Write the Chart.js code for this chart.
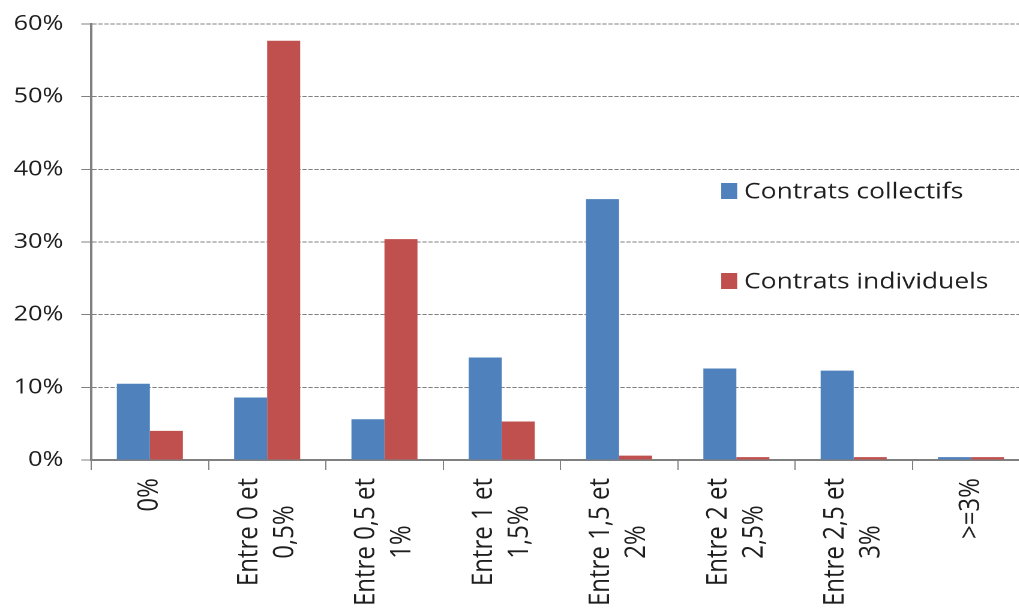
<!DOCTYPE html>
<html lang="fr">
<head>
<meta charset="utf-8">
<title>Répartition des contrats par taux</title>
<script src="https://cdn.jsdelivr.net/npm/chart.js@4.4.1/dist/chart.umd.min.js"></script>
<style>
  html, body { margin: 0; padding: 0; background: #ffffff; overflow: hidden; }
  #wrap {
    position: absolute; left: 0; top: 0;
    width: 863px; height: 616px;
    transform: scaleX(1.2); transform-origin: 0 0;
  }
</style>
</head>
<body>
<div id="wrap"><canvas id="chart"></canvas></div>
<script>
// Categories (rate bands), one array of text lines per label
const categories = [
  ["0%"],
  ["Entre 0 et", "0,5%"],
  ["Entre 0,5 et", "1%"],
  ["Entre 1 et", "1,5%"],
  ["Entre 1,5 et", "2%"],
  ["Entre 2 et", "2,5%"],
  ["Entre 2,5 et", "3%"],
  [">=3%"]
];

// Share of contracts in each band (%)
const collectifs  = [10.5, 8.6, 5.6, 14.1, 35.9, 12.6, 12.3, 0.4];
const individuels = [4.0, 57.7, 30.4, 5.3, 0.6, 0.4, 0.4, 0.4];

const seriesNames = ["Contrats collectifs", "Contrats individuels"];

// Value axis ticks (%)
const yTickValues = [0, 10, 20, 30, 40, 50, 60];

const FONT = '"Open Sans", "Noto Sans", sans-serif';
const GRID = '#808080';
const TEXT = '#1e1e1e';

// Rotated, centred multi-line category labels under the axis
const categoryLabels = {
  id: 'categoryLabels',
  afterDraw(chart) {
    const { ctx, scales: { x } } = chart;
    const gap = 18, lineH = 30;
    ctx.save();
    ctx.font = '24px ' + FONT;
    ctx.fillStyle = TEXT;
    ctx.textAlign = 'center';
    ctx.textBaseline = 'middle';
    chart.data.labels.forEach((lines, i) => {
      const px = x.getPixelForValue(i);
      const maxW = Math.max(...lines.map(l => ctx.measureText(l).width));
      ctx.save();
      ctx.translate(px, x.top + gap);
      ctx.rotate(-Math.PI / 2);
      lines.forEach((line, j) => {
        ctx.fillText(line, -maxW / 2, (j - (lines.length - 1) / 2) * lineH);
      });
      ctx.restore();
    });
    ctx.restore();
  }
};

// Legend drawn inside the plot area, one entry per row
const insideLegend = {
  id: 'insideLegend',
  afterDraw(chart) {
    const { ctx } = chart;
    const boxX = 601, boxW = 13.3, boxH = 16, textX = 620;
    const rows = [191, 281];
    ctx.save();
    ctx.font = '22px ' + FONT;
    ctx.textAlign = 'left';
    ctx.textBaseline = 'middle';
    chart.data.datasets.forEach((ds, i) => {
      const cy = rows[i];
      ctx.fillStyle = ds.backgroundColor;
      ctx.fillRect(boxX, cy - boxH / 2, boxW, boxH);
      ctx.fillStyle = TEXT;
      ctx.fillText(ds.label, textX, cy + 1);
    });
    ctx.restore();
  }
};

new Chart(document.getElementById('chart'), {
  type: 'bar',
  data: {
    labels: categories,
    datasets: [
      { label: seriesNames[0], data: collectifs,  backgroundColor: '#4F81BD' },
      { label: seriesNames[1], data: individuels, backgroundColor: '#C0504D' }
    ]
  },
  options: {
    responsive: true,
    maintainAspectRatio: false,
    animation: false,
    devicePixelRatio: 2,
    layout: { padding: { top: 24, right: 5, left: 0, bottom: 0 } },
    datasets: { bar: { categoryPercentage: 0.563, barPercentage: 1.0 } },
    plugins: {
      legend: { display: false },
      tooltip: { enabled: false }
    },
    scales: {
      x: {
        grid: {
          offset: true,
          drawOnChartArea: false,
          drawTicks: true,
          tickLength: 10,
          color: GRID,
          tickColor: GRID
        },
        border: { display: true, color: GRID, width: 2 },
        ticks: { display: false },
        afterFit(scale) { scale.height = 156; }
      },
      y: {
        min: 0,
        max: 60,
        afterBuildTicks(scale) {
          scale.ticks = yTickValues.map(v => ({ value: v }));
        },
        grid: {
          color: GRID,
          lineWidth: 1,
          tickLength: 8.3,
          tickColor: GRID,
          tickBorderDash: []
        },
        border: { display: true, color: GRID, width: 2, dash: [3.5, 1.5] },
        ticks: {
          padding: 15,
          color: TEXT,
          font: { family: FONT, size: 21 },
          callback: v => v + '%'
        },
        afterFit(scale) {
          scale.width = 76;
          scale.paddingTop = 0;
          scale.paddingBottom = 0;
        }
      }
    }
  },
  plugins: [categoryLabels, insideLegend]
});
</script>
</body>
</html>
